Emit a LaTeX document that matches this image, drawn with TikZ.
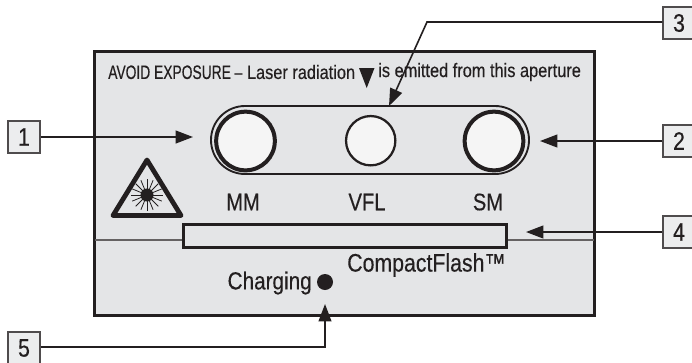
\documentclass[tikz,border=0pt]{standalone}
\usepackage{fontspec}
\setmainfont[FakeStretch=0.84,FakeBold=0.35]{Liberation Sans}
\newfontfamily\capsfont[FakeStretch=0.71,FakeBold=0.35]{Liberation Sans}
\usepackage{xcolor}
\usepackage{tikz}
\usetikzlibrary{positioning,calc,arrows.meta}
\definecolor{panel}{HTML}{E4E5E7}
\definecolor{ink}{HTML}{231F20}
\tikzset{
	callout/.style={rectangle, draw=ink!80, line width=0.8pt, fill=panel!70, minimum width=24pt, minimum height=24pt, inner sep=0pt, font=\fontsize{19}{19}\selectfont, text=ink},
	lead/.style={draw=ink, line width=1.2pt, -{Triangle[length=13pt,width=9.6pt]}},
	port/.style={circle, draw=ink, fill=white!96!black, inner sep=0pt},
	lbl/.style={text=ink, inner sep=0pt, font=\fontsize{18}{20}\selectfont},
}
\begin{document}
\begin{tikzpicture}[x=0.75pt,y=-0.75pt]
		\useasboundingbox (0,0) rectangle (692,362);
		% panel
		\node[rectangle, draw=ink, line width=2.6pt, fill=panel, anchor=north west, outer sep=0pt, minimum width=374.7pt, minimum height=197.9pt, inner sep=0pt] (box) at (94.7,51.7) {};
		\draw[ink!70, line width=0.8pt] (box.west |- 0,240)--(box.east |- 0,240);
		\node[rectangle, draw=ink, line width=2.4pt, fill=panel, anchor=north west, outer sep=0pt, minimum width=242pt, minimum height=17pt, inner sep=0pt] (slot) at (183.7,224.7) {};
		% ports
		\node[rectangle, rounded corners=25.5pt, draw=ink, line width=1.4pt, anchor=north west, outer sep=0pt, minimum width=238.5pt, minimum height=51pt, inner sep=0pt] (pill) at (211,106) {};
		\node[port, line width=3pt, minimum size=44pt] (mm) at (245.5,141) {};
		\node[port, line width=1.7pt, minimum size=37pt] (vfl) at (370.7,140.7) {};
		\node[port, line width=3pt, minimum size=44pt] (sm) at (494,141) {};
		% texts
		\node[lbl, anchor=west, font=\fontsize{14.6}{16}\selectfont] (warn) at (108,72) {{\capsfont AVOID EXPOSURE –} Laser radiation};
		\node[lbl, anchor=west, font=\fontsize{14.6}{16}\selectfont] (emit) at (378,72) {is emitted from this aperture};
		\fill[ink] (359,68)--(374.5,68)--(366.7,88)--cycle;
		\node[lbl] (mmlabel) at (243,202) {MM};
		\node[lbl] (vfllabel) at (367,202) {VFL};
		\node[lbl] (smlabel) at (488,202) {SM};
		\node[lbl, anchor=west, font=\fontsize{19}{20}\selectfont] (flash) at (347,265) {CompactFlash™};
		\node[lbl, anchor=east, font=\fontsize{18.5}{20}\selectfont] (charging) at (312,283) {Charging};
		\node[circle, fill=ink, minimum size=12pt, inner sep=0pt] (led) at (325,282) {};
		% laser sign
		\node[rectangle, inner sep=0pt] (laser) at (147,195) {};
		\draw[ink, line width=3.6pt, line join=round, fill=panel] (147,160)--(113,215.5)--(181,215.5)--cycle;
		\fill[ink] (laser) circle (4.9pt);
		\foreach \a in {0,22.5,...,337.5}
			\draw[ink, line width=0.6pt] (laser) -- ++(\a:16);
		% numbers
		\node[callout] (1) at (24,137) {1};
		\node[callout] (2) at (679,141) {2};
		\node[callout] (3) at (679,23) {3};
		\node[callout] (4) at (679,232) {4};
		\node[callout] (5) at (24,348) {5};
		\coordinate (tip1) at (193,137);
		\coordinate (tip2) at (540,141);
		\coordinate (bend3) at (427,22);
		\coordinate (tip3) at (389,106);
		\coordinate (tip4) at (526,232);
		\coordinate (bend5) at (325,347);
		\coordinate (tip5) at (325,304);
		\draw[lead] (1) -- (tip1);
		\draw[lead] (2) -- (tip2);
		\draw[lead] (3.west |- bend3) -- (bend3) -- (tip3);
		\draw[lead] (4) -- (tip4);
		\draw[lead] (5.east |- bend5) -- (bend5) -- (tip5);
	\end{tikzpicture}
\end{document}
